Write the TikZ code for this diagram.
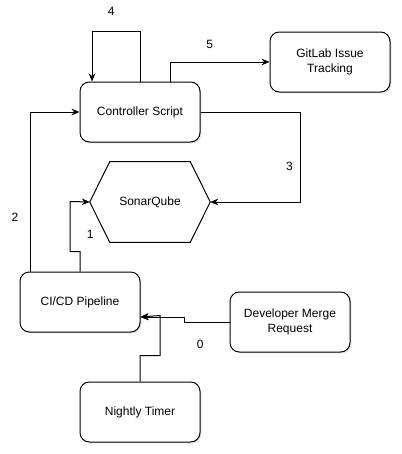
\documentclass[tikz,border=0pt]{standalone}
\usepackage{fontspec}
\setmainfont{Liberation Sans}
\usetikzlibrary{arrows.meta,shadows}
\tikzset{
  box/.style={draw,thick,fill=white,rounded corners=7pt,minimum width=90pt,minimum height=45pt,align=center,
    drop shadow={shadow xshift=1pt,shadow yshift=-1pt,opacity=0.25}},
  arr/.style={thick,-{Stealth[length=6pt,width=5pt]}},
  num/.style={font=\fontsize{9}{11}\selectfont}
}
\begin{document}
\begin{tikzpicture}[x=0.75pt,y=-0.75pt,font=\fontsize{9}{11}\selectfont,thick/.style={line width=0.75pt}]
\useasboundingbox (0,0) rectangle (402,454);
\node[box] (ctrl) at (140,112) {Controller Script};
\node[box] (gitlab) at (330,62) {GitLab Issue\\Tracking};
\node[minimum width=90pt,minimum height=60pt] (sonar) at (150,202) {SonarQube};
\draw[thick] (sonar.west) -- ([xshift=15pt]sonar.north west) -- ([xshift=-15pt]sonar.north east) -- (sonar.east)
  -- ([xshift=-15pt]sonar.south east) -- ([xshift=15pt]sonar.south west) -- cycle;
\node[box] (cicd) at (80,302) {CI/CD Pipeline};
\node[box] (merge) at (290,322) {Developer Merge\\Request};
\node[box] (timer) at (140,412) {Nightly Timer};
\coordinate (cicd in) at ([yshift=-11.25pt]cicd.east);
% triggers
\draw[arr] (merge.west) -- node[pos=0.65,below=10pt,num]{0} ++(-45,0) |- (cicd in);
\draw[arr] (timer.north) -- ++(0,-26) -| ++(20,-40) -- (cicd in);
% pipeline steps
\draw[arr] (cicd.north) -- ++(0,-20) -| node[pos=0.67,right=9pt,num]{1} ++(-10,-50) -- (sonar.west);
\draw[arr] ([xshift=-37.5pt]cicd.north) |- node[pos=0.17,left=5pt,num]{2} (ctrl.west);
\draw[arr] (ctrl.east) -- ++(100,0) |- node[pos=0.3,left=2pt,num]{3} (sonar.east);
\draw[arr] (ctrl.north) -- ++(0,-50) -| node[pos=0.3,above=8pt,num]{4} ([xshift=-36pt]ctrl.north);
\draw[arr] ([xshift=22.5pt]ctrl.north) |- node[pos=0.7,above=6pt,num]{5} (gitlab.west);
\end{tikzpicture}
\end{document}
